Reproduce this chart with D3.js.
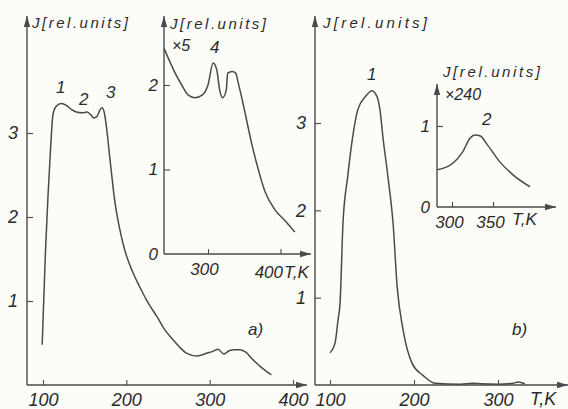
<!DOCTYPE html>
<html lang="en">

<head>
  <meta charset="UTF-8">
  <title>Luminescence</title>
  <script src="https://d3js.org/d3.v7.min.js"></script>
  <style>
    html,
    body {
      padding: 0;
      margin: 0;
      background: #fcfcf8;
    }

    text {
      font-family: "Liberation Sans", Arial, sans-serif;
      font-style: italic;
      fill: #2b2b2b;
    }

    .curve {
      fill: none;
      stroke: #4a4a4a;
      stroke-width: 1.5px;
    }
  </style>
</head>

<body>
  <script>
    const width = 568;
    const height = 409;

    // panel a) main curve: T [K], J [rel. units]
    const tempA = [99, 103, 106, 109, 112, 116, 122, 128, 134, 140, 147, 153, 157, 161, 165, 168, 171, 174, 177, 180, 183, 186, 190, 194, 198, 207, 216, 226, 237, 246, 256, 264, 272, 285, 297, 304, 310, 317, 324, 330, 336, 342, 352, 362, 374];
    const valA = [0.48, 1.6, 2.25, 2.8, 3.22, 3.32, 3.35, 3.33, 3.28, 3.25, 3.24, 3.25, 3.22, 3.18, 3.2, 3.27, 3.3, 3.22, 3.0, 2.72, 2.45, 2.2, 1.96, 1.77, 1.61, 1.36, 1.17, 0.98, 0.81, 0.66, 0.54, 0.45, 0.38, 0.345, 0.38, 0.40, 0.425, 0.37, 0.41, 0.42, 0.42, 0.40, 0.30, 0.21, 0.12];

    // panel a) inset, x5
    const tempAi = [240, 245, 255, 264, 273, 282, 292, 300, 307, 312, 316, 320, 325, 327, 333, 338, 341, 347, 353, 360, 367, 378, 392, 405, 419];
    const valAi = [2.43, 2.33, 2.14, 2.0, 1.88, 1.85, 1.88, 2.0, 2.26, 2.18, 1.94, 1.85, 1.94, 2.14, 2.16, 2.14, 2.04, 1.82, 1.58, 1.30, 1.06, 0.74, 0.52, 0.40, 0.26];

    // panel b) main curve
    const tempB = [100, 106, 109.5, 112, 115.5, 121, 127, 133, 142, 150, 156, 159.5, 163, 169, 175, 180, 187, 197.6, 210.7, 225, 255, 270, 279, 300, 318, 324, 332];
    const valB = [0.37, 0.48, 0.74, 0.94, 1.86, 2.38, 2.84, 3.15, 3.30, 3.37, 3.30, 3.15, 2.84, 2.38, 1.86, 1.12, 0.63, 0.25, 0.11, 0.02, 0.01, 0.02, 0.015, 0.01, 0.02, 0.035, 0.015];

    // panel b) inset, x240
    const tempBi = [282, 301, 313, 322, 328, 334, 343, 358, 374, 395];
    const valBi = [0.46, 0.54, 0.68, 0.85, 0.89, 0.88, 0.77, 0.56, 0.40, 0.25];

    // tick labels
    const ticksAx = [100, 200, 300, 400];
    const ticksAy = [1, 2, 3];
    const ticksAix = [300, 400];
    const ticksAiy = [0, 1, 2];
    const ticksBx = [100, 200, 300];
    const ticksBy = [1, 2, 3];
    const ticksBix = [300, 350];
    const ticksBiy = [0, 1];

    const svg = d3.select("body").append("svg")
      .attr("width", width)
      .attr("height", height);

    const ink = "#4a4a4a";

    function arrow(x1, y1, x2, y2) {
      svg.append("line")
        .attr("x1", x1).attr("y1", y1).attr("x2", x2).attr("y2", y2)
        .attr("stroke", ink).attr("stroke-width", 1.4);
      const a = Math.atan2(y2 - y1, x2 - x1);
      const len = 11, w = 3.2;
      const bx = x2 - len * Math.cos(a), by = y2 - len * Math.sin(a);
      const px = -Math.sin(a) * w, py = Math.cos(a) * w;
      svg.append("path")
        .attr("d", `M${x2},${y2}L${bx + px},${by + py}L${bx - px},${by - py}Z`)
        .attr("fill", ink);
    }

    function label(x, y, s, size, anchor) {
      return svg.append("text")
        .attr("x", x).attr("y", y)
        .attr("font-size", size)
        .attr("text-anchor", anchor || "start")
        .text(s);
    }

    // one set of axes + curve
    function panel(o) {
      const x = d3.scaleLinear().domain(o.xDom).range(o.xRange);
      const y = d3.scaleLinear().domain(o.yDom).range(o.yRange);

      const g = svg.append("g");

      const xAxis = d3.axisBottom(x)
        .tickValues(o.xTicks)
        .tickSizeInner(-5).tickSizeOuter(0)
        .tickPadding(o.xPad)
        .tickFormat(d3.format("d"));
      const gx = g.append("g").attr("transform", `translate(0,${o.yRange[0]})`).call(xAxis);
      gx.select(".domain").remove();
      gx.selectAll("line").attr("stroke", ink).attr("stroke-width", 1.1);
      gx.selectAll("text").attr("font-size", o.font).attr("font-family", null).attr("fill", null)
        .attr("dx", o.xDx || 0);

      const yAxis = d3.axisLeft(y)
        .tickValues(o.yTicks)
        .tickSizeInner(-6).tickSizeOuter(0)
        .tickPadding(o.yPad)
        .tickFormat(d3.format("d"));
      const gy = g.append("g").attr("transform", `translate(${o.ox},0)`).call(yAxis);
      gy.select(".domain").remove();
      gy.selectAll("line").attr("stroke", ink).attr("stroke-width", 1.1)
        .filter(d => d === 0).remove();
      gy.selectAll("text").attr("font-size", o.font).attr("font-family", null).attr("fill", null);

      arrow(o.ox, o.yRange[0], o.xEnd, o.yRange[0]);
      arrow(o.ox, o.yRange[0], o.ox, o.yEnd);

      const line = d3.line()
        .x((d) => x(d[0]))
        .y((d) => y(d[1]))
        .curve(d3.curveMonotoneX);

      g.append("path")
        .attr("class", "curve")
        .attr("d", line(d3.zip(o.temp, o.val)));
    }

    panel({
      xDom: [100, 400], xRange: [43, 293], yDom: [0, 3], yRange: [385, 133],
      ox: 27, xEnd: 307, yEnd: 16, xTicks: ticksAx, yTicks: ticksAy,
      xPad: 8, yPad: 9, font: 18, temp: tempA, val: valA
    });
    panel({
      xDom: [300, 400], xRange: [208, 281], yDom: [0, 2], yRange: [254, 85],
      ox: 164, xEnd: 311, yEnd: 16, xTicks: [300], yTicks: ticksAiy,
      xPad: 9, yPad: 6, font: 17, xDx: -4, temp: tempAi, val: valAi
    });
    panel({
      xDom: [100, 300], xRange: [330, 498], yDom: [0, 3], yRange: [385, 123],
      ox: 315, xEnd: 568, yEnd: 16, xTicks: ticksBx, yTicks: ticksBy,
      xPad: 8, yPad: 9, font: 18, temp: tempB, val: valB
    });
    panel({
      xDom: [300, 350], xRange: [452, 493], yDom: [0, 1], yRange: [207, 126],
      ox: 437, xEnd: 556, yEnd: 84, xTicks: ticksBix, yTicks: ticksBiy,
      xPad: 9, yPad: 7, font: 17, xDx: -3, temp: tempBi, val: valBi
    });

    // inset a) 400 tick with unit glued on
    const xAi = d3.scaleLinear().domain([300, 400]).range([208, 281]);
    svg.append("line")
      .attr("x1", xAi(ticksAix[1])).attr("x2", xAi(ticksAix[1]))
      .attr("y1", 254).attr("y2", 249)
      .attr("stroke", ink).attr("stroke-width", 1.1);
    label(xAi(ticksAix[1]) + 2, 278, ticksAix[1], 17, "end");
    label(xAi(ticksAix[1]) + 3, 278, "T,K", 17);

    // axis titles
    label(32, 28, "J[rel.units]", 15).attr("textLength", 96);
    label(170, 29, "J[rel.units]", 15).attr("textLength", 96);
    label(323, 28, "J[rel.units]", 15).attr("textLength", 104);
    label(443, 77, "J[rel.units]", 15).attr("textLength", 97);
    label(172, 51, "×5", 16);
    label(445, 100, "×240", 16);
    label(530, 405, "T,K", 18);
    label(512, 225, "T,K", 17);

    // peak numbers
    label(56, 93, "1", 17);
    label(79, 105, "2", 17);
    label(106, 98, "3", 17);
    label(210, 53, "4", 17);
    label(367, 80, "1", 17);
    label(482, 125, "2", 17);

    label(248, 335, "a)", 17);
    label(512, 335, "b)", 17);
  </script>
</body>

</html>
